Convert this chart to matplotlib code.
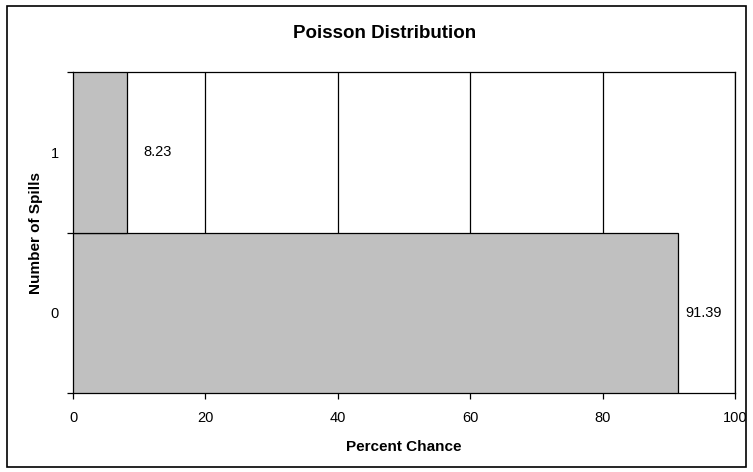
import matplotlib
matplotlib.use("Agg")
import matplotlib.pyplot as plt
from matplotlib.patches import Rectangle

categories = ["0", "1"]
values = [91.39, 8.23]
x_ticks = [0, 20, 40, 60, 80, 100]

plt.rcParams['font.family'] = ['Liberation Sans', 'DejaVu Sans']

fig = plt.figure(figsize=(7.53, 4.72), dpi=100)
ax = fig.add_axes([73/753, 1-393/472, (735-73)/753, (393-72)/472])

ypos = list(range(len(categories)))
ax.barh(ypos, values, height=1.0, color="#C0C0C0", edgecolor="black", linewidth=0.9, zorder=3)
label_offsets_pt = [5.5, 11.5]
for y, v, off in zip(ypos, values, label_offsets_pt):
    ax.annotate(f"{v:.2f}", xy=(v, y), xytext=(off, 0), textcoords="offset points",
                va="center", ha="left", fontsize=10.5, zorder=4)

ax.set_xlim(0, 100)
ax.set_ylim(-0.5, len(categories) - 0.5)
ax.set_xticks(x_ticks)
ax.set_xticklabels([str(t) for t in x_ticks], fontsize=10.5)
ax.set_yticks(ypos)
ax.set_yticklabels(categories, fontsize=10.5)
ax.set_yticks([i - 0.5 for i in range(len(categories) + 1)], minor=True)
ax.tick_params(axis='y', which='major', length=0, pad=10)
ax.tick_params(axis='y', which='minor', length=4, width=0.9, direction='out')
ax.tick_params(axis='x', which='major', length=4, width=0.9, direction='out', pad=9)
ax.xaxis.grid(True, color="black", linewidth=0.9, zorder=1)
ax.set_axisbelow(True)
for s in ax.spines.values():
    s.set_linewidth(0.9)
    s.set_color("black")

fig.text(385/753, 1-33/472, "Poisson Distribution", fontsize=13.5, fontweight="bold",
         ha="center", va="center")
ax.set_xlabel("Percent Chance", fontsize=11, fontweight="bold", labelpad=11)
ax.set_ylabel("Number of Spills", fontsize=11, fontweight="bold", labelpad=6)

fig.patches.append(Rectangle((7/753, 5/472), (746-7)/753, (466-5)/472, transform=fig.transFigure,
                             fill=False, edgecolor="black", linewidth=1.2))

fig.savefig("out.png", dpi=100)
